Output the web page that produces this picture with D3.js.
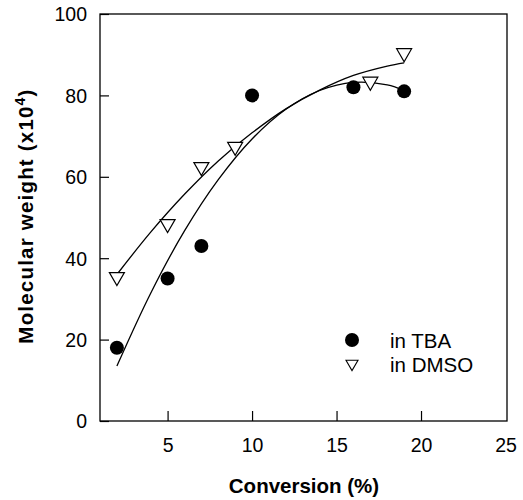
<!DOCTYPE html>
<html>
<head>
<meta charset="utf-8">
<script src="https://cdn.jsdelivr.net/npm/d3@7"></script>
<style>
  body { margin: 0; background: #fff; }
  text { font-family: "Liberation Sans", Arial, sans-serif; }
</style>
</head>
<body>
<div id="chart"></div>
<script>
var w = 523, h = 500;

// measured points
var tbaX = [2, 5, 7, 10, 16, 19];
var tbaY = [18, 35, 43, 80, 82, 81];
var dmsoX = [2, 5, 7, 9, 17, 19];
var dmsoY = [35, 48, 62, 67, 83, 90];

// fitted curves
var tbaFitX = [2, 4, 6, 8, 10, 12, 14, 16, 18, 19];
var tbaFitY = [13.5, 31.4, 46.7, 59.3, 69.3, 76.6, 81.2, 83.2, 82.6, 81.2];
var dmsoFitX = [2, 4, 6, 8, 10, 12, 14, 16, 18, 19];
var dmsoFitY = [36, 46.4, 55.7, 63.9, 70.8, 76.7, 81.3, 84.9, 87.2, 88.0];

var xTicks = [5, 10, 15, 20, 25];
var yTicks = [0, 20, 40, 60, 80, 100];

var pLeft = 100, pRight = 507, pTop = 14, pBottom = 421;

var svg = d3.select("#chart").append("svg")
  .attr("width", w)
  .attr("height", h);

var x = d3.scaleLinear().domain([1, 25]).range([pLeft, pRight - 1.5]);
var y = d3.scaleLinear().domain([0, 100]).range([pBottom, pTop]);

// frame
svg.append("rect")
  .attr("x", pLeft).attr("y", pTop)
  .attr("width", pRight - pLeft).attr("height", pBottom - pTop)
  .style("fill", "none").style("stroke", "#000").style("stroke-width", 1.3);

// axes with inward ticks
var xAxis = svg.append("g")
  .attr("transform", "translate(0," + pBottom + ")")
  .call(d3.axisBottom(x).tickValues(xTicks).tickSizeInner(-10).tickSizeOuter(0).tickPadding(17));
var yAxis = svg.append("g")
  .attr("transform", "translate(" + pLeft + ",0)")
  .call(d3.axisLeft(y).tickValues(yTicks).tickSizeInner(-9).tickSizeOuter(0).tickPadding(13));

[xAxis, yAxis].forEach(function(a) {
  a.select(".domain").remove();
  a.selectAll("line").style("stroke", "#000").style("stroke-width", 1.2);
  a.selectAll("text")
    .style("font-size", "19.5px")
    .style("font-family", "'Liberation Sans', Arial, sans-serif")
    .style("fill", "#000");
});
yAxis.selectAll("text").attr("dy", "0.35em");
xAxis.selectAll(".tick").filter(function(d) { return d == 25; }).select("line").remove();

// fit lines
var line = d3.line()
  .x(function(d) { return x(d[0]); })
  .y(function(d) { return y(d[1]); })
  .curve(d3.curveCatmullRom);

svg.append("path")
  .datum(d3.zip(tbaFitX, tbaFitY))
  .attr("d", line)
  .style("fill", "none").style("stroke", "#000").style("stroke-width", 1.3);
svg.append("path")
  .datum(d3.zip(dmsoFitX, dmsoFitY))
  .attr("d", line)
  .style("fill", "none").style("stroke", "#000").style("stroke-width", 1.3);

function triangle(cx, cy, s) {
  return "M" + (cx - 7.5 * s) + "," + (cy - 6 * s) + " L" + (cx + 7.5 * s) + "," + (cy - 6 * s) +
    " L" + cx + "," + (cy + 7 * s) + " Z";
}

// markers
svg.selectAll(".tba")
  .data(d3.zip(tbaX, tbaY))
  .enter()
  .append("circle")
  .attr("cx", function(d) { return x(d[0]); })
  .attr("cy", function(d) { return y(d[1]); })
  .attr("r", 7)
  .style("fill", "#000");

svg.selectAll(".dmso")
  .data(d3.zip(dmsoX, dmsoY))
  .enter()
  .append("path")
  .attr("d", function(d) { return triangle(x(d[0]), y(d[1]), 1); })
  .style("fill", "#fff").style("stroke", "#000").style("stroke-width", 1.2);

// legend
svg.append("circle").attr("cx", 352).attr("cy", 340).attr("r", 7).style("fill", "#000");
svg.append("path").attr("d", triangle(352, 365, 0.8)).style("fill", "#fff").style("stroke", "#000").style("stroke-width", 1.1);
svg.append("text").attr("x", 390).attr("y", 348).style("font-size", "20.5px").text("in TBA");
svg.append("text").attr("x", 390).attr("y", 372).style("font-size", "20.5px").text("in DMSO");

// axis titles
svg.append("text")
  .attr("x", 304).attr("y", 493)
  .attr("text-anchor", "middle")
  .style("font-size", "20.5px").style("font-weight", "bold")
  .text("Conversion (%)");

var yl = svg.append("text")
  .attr("transform", "translate(33,216) rotate(-90)")
  .attr("text-anchor", "middle")
  .style("font-size", "20.5px").style("font-weight", "bold")
  .style("letter-spacing", "1.2px");
yl.append("tspan").text("Molecular weight (x10");
yl.append("tspan").attr("dy", "-8").style("font-size", "14px").text("4");
yl.append("tspan").attr("dy", "8").text(")");
</script>
</body>
</html>
